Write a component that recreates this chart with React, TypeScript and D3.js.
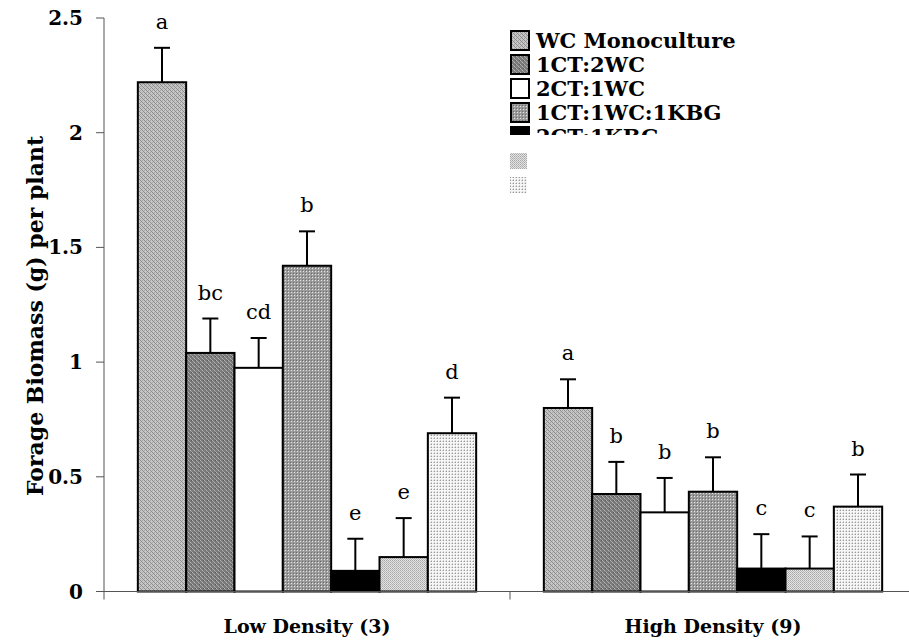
import React from "react";
import * as d3 from "d3";

// Forage biomass per plant by planting mixture and density
const densities = ["Low Density (3)", "High Density (9)"];
const mixtures = [
  "WC Monoculture",
  "1CT:2WC",
  "2CT:1WC",
  "1CT:1WC:1KBG",
  "2CT:1KBG",
  "KBG Mix A",
  "KBG Mix B",
];
const lowMeans = [2.22, 1.04, 0.975, 1.42, 0.09, 0.15, 0.69];
const lowErrors = [0.15, 0.15, 0.13, 0.15, 0.14, 0.17, 0.155];
const lowLetters = ["a", "bc", "cd", "b", "e", "e", "d"];
const highMeans = [0.8, 0.425, 0.345, 0.435, 0.1, 0.1, 0.37];
const highErrors = [0.125, 0.14, 0.15, 0.15, 0.15, 0.14, 0.14];
const highLetters = ["a", "b", "b", "b", "c", "c", "b"];
const yTicks = [0, 0.5, 1, 1.5, 2, 2.5];
const legendShown = [true, true, true, true, true, false, false];

const groupMeans = [lowMeans, highMeans];
const groupErrors = [lowErrors, highErrors];
const groupLetters = [lowLetters, highLetters];

const W = 909;
const H = 640;
const plotLeft = 104;
const plotTop = 18;
const plotBottom = 591.5;
const groupWidth = 406;

const fills = ["url(#p0)", "url(#p1)", "#ffffff", "url(#p3)", "#000000", "url(#p5)", "url(#p6)"];

const serif = "'DejaVu Serif', serif";

function Patterns() {
  return (
    <defs>
      <pattern id="p0" width="4" height="4" patternUnits="userSpaceOnUse">
        <rect width="4" height="4" fill="#c6c6c6" />
        <rect x="0" y="0" width="1" height="1" fill="#8c8c8c" />
        <rect x="1" y="1" width="1" height="1" fill="#8c8c8c" />
        <rect x="2" y="2" width="1" height="1" fill="#8c8c8c" />
        <rect x="3" y="3" width="1" height="1" fill="#8c8c8c" />
        <rect x="2" y="0" width="1" height="1" fill="#a4a4a4" />
        <rect x="0" y="2" width="1" height="1" fill="#a4a4a4" />
      </pattern>
      <pattern id="p1" width="4" height="4" patternUnits="userSpaceOnUse">
        <rect width="4" height="4" fill="#7a7a7a" />
        <rect x="0" y="0" width="1" height="1" fill="#b4b4b4" />
        <rect x="1" y="1" width="1" height="1" fill="#a0a0a0" />
        <rect x="2" y="2" width="1" height="1" fill="#b4b4b4" />
        <rect x="3" y="3" width="1" height="1" fill="#a0a0a0" />
        <rect x="3" y="0" width="1" height="1" fill="#5a5a5a" />
      </pattern>
      <pattern id="p3" width="3" height="3" patternUnits="userSpaceOnUse">
        <rect width="3" height="3" fill="#9a9a9a" />
        <rect x="1" y="1" width="1" height="1" fill="#e6e6e6" />
        <rect x="0" y="0" width="1" height="1" fill="#6e6e6e" />
      </pattern>
      <pattern id="p5" width="2" height="2" patternUnits="userSpaceOnUse">
        <rect width="2" height="2" fill="#e4e4e4" />
        <rect x="0" y="0" width="1" height="1" fill="#a6a6a6" />
        <rect x="1" y="1" width="1" height="1" fill="#b8b8b8" />
      </pattern>
      <pattern id="p6" width="3" height="3" patternUnits="userSpaceOnUse">
        <rect width="3" height="3" fill="#f6f6f6" />
        <rect x="0" y="0" width="1" height="1" fill="#9a9a9a" />
        <rect x="2" y="0" width="1" height="1" fill="#d0d0d0" />
        <rect x="0" y="2" width="1" height="1" fill="#d0d0d0" />
      </pattern>
      <clipPath id="legendClip">
        <rect x="490" y="0" width="400" height="135" />
      </clipPath>
    </defs>
  );
}

export default function App() {
  const x0 = d3
    .scaleBand<string>()
    .domain(densities)
    .range([plotLeft, plotLeft + groupWidth * densities.length])
    .paddingInner(0)
    .paddingOuter(0);
  const x1 = d3
    .scaleBand<string>()
    .domain(mixtures)
    .range([0, x0.bandwidth()])
    .paddingInner(0)
    .paddingOuter(0.7);
  const y = d3.scaleLinear().domain([0, 2.5]).range([plotBottom, plotTop]);

  const bw = x1.bandwidth();
  const capHalf = 8;
  const legendRowTop = (i: number) => 31 + i * 24;
  const textStyle = { fontFamily: serif };

  return (
    <svg
      width={W}
      height={H}
      style={{ position: "absolute", left: 0, top: 0, background: "#fff", fontFamily: serif }}
    >
      <Patterns />
      <rect width={W} height={H} fill="#fff" />

      {/* bars, error bars and significance letters */}
      {densities.map((dens, gi) => (
        <g key={dens} transform={`translate(${x0(dens)},0)`}>
          {mixtures.map((m, i) => {
            const v = groupMeans[gi][i];
            const e = groupErrors[gi][i];
            const bx = x1(m)!;
            const cx = bx + bw / 2;
            return (
              <g key={m}>
                <line x1={cx} x2={cx} y1={y(v)} y2={y(v + e)} stroke="#000" strokeWidth={2} />
                <line
                  x1={cx - capHalf}
                  x2={cx + capHalf}
                  y1={y(v + e)}
                  y2={y(v + e)}
                  stroke="#000"
                  strokeWidth={2}
                />
                <rect
                  x={bx}
                  y={y(v)}
                  width={bw}
                  height={plotBottom - y(v)}
                  fill={fills[i]}
                  stroke="#000"
                  strokeWidth={2}
                />
                <text
                  x={cx}
                  y={y(v + e) - 19}
                  textAnchor="middle"
                  fontSize={21}
                  fill="#000"
                  style={textStyle}
                >
                  {groupLetters[gi][i]}
                </text>
              </g>
            );
          })}
        </g>
      ))}

      {/* axes */}
      <line x1={plotLeft} x2={plotLeft} y1={plotTop} y2={plotBottom + 8} stroke="#555" strokeWidth={1} />
      <line x1={96} x2={W} y1={plotBottom} y2={plotBottom} stroke="#555" strokeWidth={1} />
      {yTicks.map((t) => (
        <g key={t}>
          <line x1={96} x2={plotLeft} y1={y(t)} y2={y(t)} stroke="#555" strokeWidth={1} />
          <text
            x={83}
            y={y(t)}
            dy="0.35em"
            textAnchor="end"
            fontSize={20}
            fontWeight="bold"
            style={textStyle}
          >
            {String(t)}
          </text>
        </g>
      ))}
      {densities.map((d, gi) => (
        <g key={d}>
          {gi > 0 && (
            <line
              x1={x0(d)!}
              x2={x0(d)!}
              y1={plotBottom}
              y2={plotBottom + 8}
              stroke="#555"
              strokeWidth={1}
            />
          )}
          <text
            x={x0(d)! + x0.bandwidth() / 2}
            y={633}
            textAnchor="middle"
            fontSize={19}
            fontWeight="bold"
            style={textStyle}
          >
            {d}
          </text>
        </g>
      ))}
      <text
        transform={`translate(43,316) rotate(-90)`}
        textAnchor="middle"
        fontSize={22}
        fontWeight="bold"
        style={textStyle}
      >
        Forage Biomass (g) per plant
      </text>

      {/* legend */}
      <g clipPath="url(#legendClip)">
        {mixtures.map((m, i) =>
          legendShown[i] ? (
            <g key={m}>
              <rect
                x={511}
                y={legendRowTop(i)}
                width={18}
                height={19}
                fill={fills[i]}
                stroke="#000"
                strokeWidth={2}
              />
              <text
                x={536}
                y={legendRowTop(i) + 17}
                fontSize={21}
                fontWeight="bold"
                style={textStyle}
              >
                {m}
              </text>
            </g>
          ) : null
        )}
      </g>
      {mixtures.map((m, i) =>
        legendShown[i] ? null : (
          <rect
            key={m}
            x={510}
            y={153 + (i - 5) * 24}
            width={17}
            height={16}
            fill={fills[i]}
          />
        )
      )}
    </svg>
  );
}
